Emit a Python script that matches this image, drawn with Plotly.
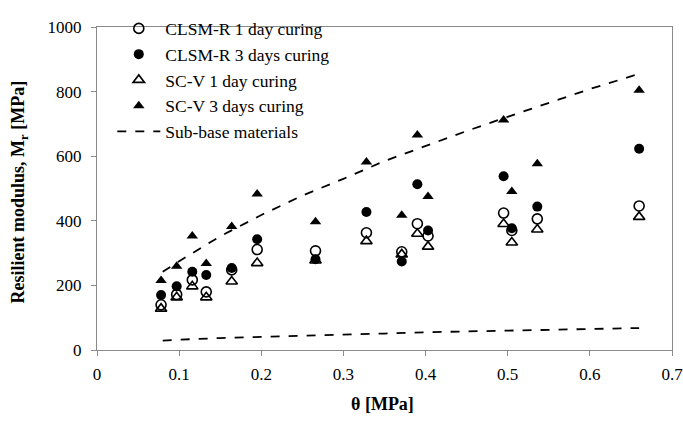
import plotly.graph_objects as go

# theta [MPa] for each test
theta = [0.078, 0.097, 0.116, 0.133, 0.164, 0.195, 0.266, 0.328, 0.371, 0.390, 0.403, 0.495, 0.505, 0.536, 0.660]
clsm_r_1day = [140, 172, 217, 180, 248, 311, 307, 363, 304, 391, 353, 424, 370, 406, 446]
clsm_r_3day = [170, 197, 242, 232, 254, 343, 281, 427, 274, 513, 370, 538, 377, 444, 623]
scv_1day = [128, 163, 197, 163, 212, 269, 277, 337, 296, 360, 320, 390, 333, 373, 412]
scv_3day = [215, 259, 353, 268, 382, 483, 397, 582, 417, 666, 475, 712, 491, 577, 804]

# Sub-base materials envelope
env_theta = [0.08, 0.10, 0.15, 0.20, 0.25, 0.30, 0.35, 0.40, 0.45, 0.50, 0.55, 0.60, 0.66]
env_upper = [242, 275, 352, 418, 478, 530, 585, 632, 678, 722, 765, 808, 855]
env_lower = [29, 32, 37, 40, 44, 48, 51, 55, 57, 60, 63, 65, 68]

FONT = "Liberation Serif"

fig = go.Figure()
fig.add_trace(go.Scatter(x=theta, y=clsm_r_1day, mode="markers", name="CLSM-R 1 day curing",
                         marker=dict(symbol="circle-open", size=10, color="black", line=dict(width=1.6))))
fig.add_trace(go.Scatter(x=theta, y=clsm_r_3day, mode="markers", name="CLSM-R 3 days curing",
                         marker=dict(symbol="circle", size=10, color="black")))
fig.add_trace(go.Scatter(x=theta, y=scv_1day, mode="markers", name="SC-V 1 day curing",
                         marker=dict(symbol="triangle-up-open", size=10, color="black", line=dict(width=1.6))))
fig.add_trace(go.Scatter(x=theta, y=scv_3day, mode="markers", name="SC-V 3 days curing",
                         marker=dict(symbol="triangle-up", size=10, color="black")))
fig.add_trace(go.Scatter(x=env_theta + [None] + env_theta, y=env_upper + [None] + env_lower,
                         mode="lines", name="Sub-base materials",
                         line=dict(color="black", width=1.8, dash="dash")))

axis_common = dict(showgrid=False, zeroline=False, showline=True, linecolor="#8a8a8a", linewidth=1,
                   mirror=True, ticks="outside", tickcolor="#8a8a8a", ticklen=5, automargin=False,
                   ticklabeloverflow="allow",
                   tickfont=dict(family=FONT, size=17, color="black"))

fig.update_layout(
    width=683, height=421,
    margin=dict(l=97, r=10.5, t=12, b=70.5),
    plot_bgcolor="white", paper_bgcolor="white",
    font=dict(family=FONT, size=17, color="black"),
    xaxis=dict(range=[0, 0.7], dtick=0.1, ticklabelstandoff=4, **axis_common),
    yaxis=dict(range=[0, 1000], dtick=200, ticklabelstandoff=6, **axis_common),
    legend=dict(x=0.0266, y=1.051, xanchor="left", yanchor="top", bgcolor="rgba(0,0,0,0)",
                font=dict(family=FONT, size=17.5), itemwidth=43, tracegroupgap=0),
    showlegend=True,
    annotations=[
        dict(text="<b>θ [MPa]</b>", xref="paper", yref="paper", x=0.497, y=-0.167,
             xanchor="center", yanchor="middle", showarrow=False, font=dict(family=FONT, size=18)),
        dict(text="<b>Resilient modulus, M<sub>r</sub> [MPa]</b>", xref="paper", yref="paper",
             x=-0.135, y=0.489, xanchor="center", yanchor="middle", textangle=-90, showarrow=False,
             font=dict(family=FONT, size=18)),
    ],
)

fig.write_html("out.html", config={"displayModeBar": False},
               post_script="document.body.style.margin='0';")
